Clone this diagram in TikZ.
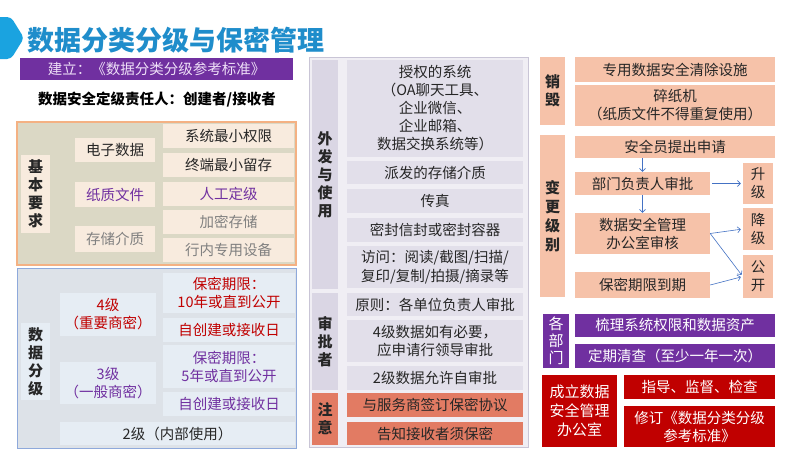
\documentclass[tikz,border=0pt]{standalone}
\usepackage{fontspec}
\setmainfont{Noto Sans CJK SC}
\usepackage{xcolor}
\usetikzlibrary{arrows.meta}
\definecolor{titleblue}{HTML}{1F8DCB}
\definecolor{iconblue}{HTML}{1AA3E0}
\definecolor{barpurple}{HTML}{7030A0}
\definecolor{barlight}{HTML}{EEDFF7}
\definecolor{ink}{HTML}{262626}
\definecolor{softgrey}{HTML}{808080}
\definecolor{darkred}{HTML}{C00000}
\definecolor{basicbg}{HTML}{DBD8C5}
\definecolor{basicline}{HTML}{F4B183}
\definecolor{basicfill}{HTML}{F8EBDE}
\definecolor{gradebg}{HTML}{DDE2E8}
\definecolor{gradeline}{HTML}{8EA9DB}
\definecolor{gradefill}{HTML}{E6EDF4}
\definecolor{midbg}{HTML}{F0EEF4}
\definecolor{midline}{HTML}{C9C5D6}
\definecolor{midlbl}{HTML}{DAD6E4}
\definecolor{midfill}{HTML}{E2DFEA}
\definecolor{notefill}{HTML}{E27B63}
\definecolor{salmon}{HTML}{F6C2A9}
\definecolor{flowblue}{HTML}{4472C4}

\begin{document}
\begin{tikzpicture}[x=1pt, y=-1pt,
  every node/.style={inner sep=0pt, align=center, text=ink, font=\fontsize{14.5}{18}\selectfont},
  sz/.style 2 args={minimum width=#1pt, minimum height=#2pt},
  lbl/.style={font=\fontsize{15}{18}\selectfont\bfseries},
  basiccell/.style={fill=basicfill},
  gradecell/.style={fill=gradefill},
  midcell/.style={fill=midfill},
  notecell/.style={fill=notefill},
  salmoncell/.style={fill=salmon},
  deptcell/.style={fill=barpurple, text=white},
  officecell/.style={fill=darkred, text=white},
  flow/.style={draw=flowblue, line width=0.6pt, -{Straight Barb[length=3pt,width=6pt]}}]
\useasboundingbox[fill=white] (0,0) rectangle (800,450);

% title
\fill[iconblue, rounded corners=4pt] (-6,17) -- (11,17) -- (24,38) -- (11,59) -- (-6,59) -- cycle;
\node[anchor=west, text=titleblue, font=\fontsize{27}{30}\selectfont\bfseries] (title) at (27,40) {数据分类分级与保密管理};
\node[sz={273}{22}, fill=barpurple, text=barlight] (std) at (156.5,69) {建立：《数据分类分级参考标准》};
\node[font=\fontsize{14.5}{18}\selectfont\bfseries, text=black] (owner) at (157,100) {数据安全定级责任人：创建者/接收者};

% basic requirements
\node[sz={279}{143}, fill=basicbg, draw=basicline, line width=1.2pt] (basicbox) at (156.5,193.5) {};
\node[lbl, basiccell, sz={29}{78}] (basic) at (35.5,194) {基\\本\\要\\求};
\node[basiccell, sz={80}{24}] (elec) at (115,150) {电子数据};
\node[basiccell, sz={80}{25}, text=barpurple] (paper) at (115,194.5) {纸质文件};
\node[basiccell, sz={80}{26}, text=softgrey] (media) at (115,239) {存储介质};
\node[basiccell, sz={131}{24}] (minright) at (228.5,136) {系统最小权限};
\node[basiccell, sz={131}{24}] (minkeep) at (228.5,165) {终端最小留存};
\node[basiccell, sz={131}{24}, text=barpurple] (manual) at (228.5,194) {人工定级};
\node[basiccell, sz={131}{24}, text=softgrey] (encrypt) at (228.5,222) {加密存储};
\node[basiccell, sz={131}{24}, text=softgrey] (device) at (228.5,250) {行内专用设备};

% data grading
\node[sz={279}{180}, fill=gradebg, draw=gradeline, line width=1pt] (gradebox) at (156.5,358) {};
\node[lbl, gradecell, sz={29}{77}] (grade) at (35.5,361.5) {数\\据\\分\\级};
\node[gradecell, sz={96}{43}, text=darkred] (lvfour) at (108,314.5) {4级\\（重要商密）};
\node[gradecell, sz={96}{42}, text=barpurple] (lvthree) at (108,383) {3级\\（一般商密）};
\node[gradecell, sz={132}{40}, text=darkred] (termfour) at (229,293) {保密期限：\\10年或直到公开};
\node[gradecell, sz={132}{24}, text=darkred] (fromfour) at (229,330) {自创建或接收日};
\node[gradecell, sz={132}{43}, text=barpurple] (termthree) at (229,366.5) {保密期限：\\5年或直到公开};
\node[gradecell, sz={132}{24}, text=barpurple] (fromthree) at (229,404) {自创建或接收日};
\node[gradecell, sz={235}{23}] (lvtwo) at (177.5,433.5) {2级（内部使用）};

% sending and use
\node[sz={219}{390}, fill=midbg, draw=midline, line width=0.8pt] (midbox) at (418.5,252) {};
\node[lbl, fill=midlbl, sz={26}{229}] (send) at (325,174.5) {外\\发\\与\\使\\用};
\node[midcell, sz={176}{97}] (system) at (435,108.5) {授权的系统\\（OA聊天工具、\\企业微信、\\企业邮箱、\\数据交换系统等）};
\node[midcell, sz={176}{23}] (issued) at (435,172.5) {派发的存储介质};
\node[midcell, sz={176}{24}] (fax) at (435,201) {传真};
\node[midcell, sz={176}{24}] (sealed) at (435,230) {密封信封或密封容器};
\node[midcell, sz={176}{42}, font=\fontsize{14.5}{19}\selectfont] (access) at (435,267) {访问：阅读/截图/扫描/\\复印/复制/拍摄/摘录等};
\node[lbl, fill=midlbl, sz={26}{97}] (approver) at (325,341.5) {审\\批\\者};
\node[midcell, sz={176}{23}] (principle) at (435,304.5) {原则：各单位负责人审批};
\node[midcell, sz={176}{42}] (lvfourok) at (435,341) {4级数据如有必要，\\应申请行领导审批};
\node[midcell, sz={176}{24}] (lvtwook) at (435,378) {2级数据允许自审批};
\node[lbl, notecell, sz={26}{52}] (note) at (325,419) {注\\意};
\node[notecell, sz={176}{24}] (nda) at (435,405) {与服务商签订保密协议};
\node[notecell, sz={176}{23}] (inform) at (435,433.5) {告知接收者须保密};

% destruction
\node[lbl, salmoncell, sz={25}{68}] (destroy) at (552.5,91) {销\\毁};
\node[salmoncell, sz={200}{25}] (wipe) at (675,69.5) {专用数据安全清除设施};
\node[salmoncell, sz={200}{41}] (shred) at (675,105.5) {碎纸机\\（纸质文件不得重复使用）};

% level change
\node[lbl, salmoncell, sz={25}{162}, font=\fontsize{15}{19}\selectfont\bfseries] (change) at (552.5,216) {变\\更\\级\\别};
\node[salmoncell, sz={200}{22}] (apply) at (675,147) {安全员提出申请};
\node[salmoncell, sz={135}{23}] (dept) at (642.5,183.5) {部门负责人审批};
\node[salmoncell, sz={135}{41}] (review) at (642.5,233.5) {数据安全管理\\办公室审核};
\node[salmoncell, sz={135}{26}] (expire) at (642.5,285) {保密期限到期};
\node[salmoncell, sz={30}{41}] (up) at (758,183.5) {升\\级};
\node[salmoncell, sz={30}{42}] (down) at (758,229) {降\\级};
\node[salmoncell, sz={30}{43}] (public) at (758,276.5) {公\\开};
\draw[flow] (apply.south -| dept.north) -- (dept.north);
\draw[flow] (dept.south) -- (review.north);
\draw[flow, shorten <=2pt, shorten >=2pt] (dept.east) -- (up.west);
\draw[flow, shorten >=2pt] (review.east) -- (down.west);
\draw[flow, shorten >=2pt] (review.east) -- (public.west);
\draw[flow, shorten >=2pt] (expire.east) -- (public.west);

% departments and office
\node[deptcell, sz={26}{54}, font=\fontsize{15}{17}\selectfont] (depts) at (556,341) {各\\部\\门};
\node[deptcell, sz={200}{23}] (sort) at (675,325.5) {梳理系统权限和数据资产};
\node[deptcell, sz={200}{24}] (check) at (675,356) {定期清查（至少一年一次）};
\node[officecell, sz={75}{72}, font=\fontsize{15}{19}\selectfont] (office) at (579.5,411) {成立数据\\安全管理\\办公室};
\node[officecell, sz={151}{24}] (guide) at (699.5,387) {指导、监督、检查};
\node[officecell, sz={151}{41}] (revise) at (699.5,426.5) {修订《数据分类分级\\参考标准》};
\end{tikzpicture}
\end{document}
